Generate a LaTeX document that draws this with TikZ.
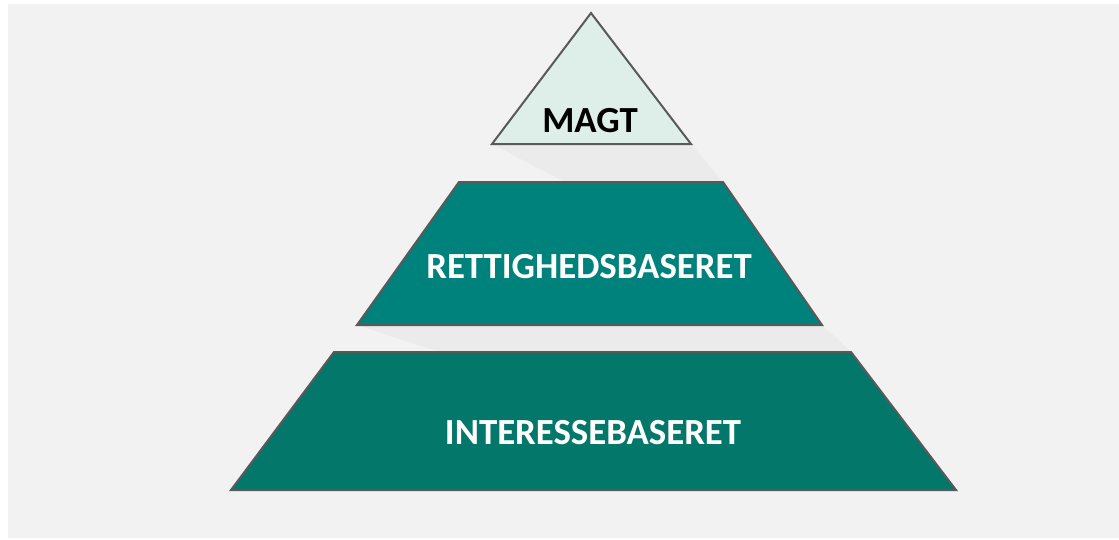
\documentclass[tikz,border=0pt]{standalone}
\usepackage{fontspec}
\setmainfont{Carlito}
\begin{document}
\begin{tikzpicture}[x=1pt,y=-1pt,
  tier/.style={draw=edgegray,line width=2pt,line join=miter},
  shade/.style={fill=shadowgray,draw=none},
  label/.style={font=\bfseries\fontsize{36.8}{42}\selectfont,anchor=base,inner sep=0pt}]
\definecolor{bggray}{HTML}{F2F2F2}
\definecolor{shadowgray}{HTML}{EBEBEB}
\definecolor{edgegray}{HTML}{595959}
\definecolor{mint}{HTML}{DEEFE9}
\definecolor{tealmid}{HTML}{00827C}
\definecolor{tealdark}{HTML}{04776B}
\useasboundingbox (0,0) rectangle (1119,539);
\fill[white] (0,0) rectangle (1119,539);
\fill[bggray] (8,4) rectangle (1119,538);
% soft shadows
\fill[shade] (492,144) -- (691,144) -- (723,182) -- (565,182) -- cycle;
\fill[shade] (357,325) -- (822,325) -- (851,352) -- (440,352) -- cycle;
% tiers
\draw[tier,fill=tealdark] (231,490) -- (956,490) -- (851,352) -- (334,352) -- cycle;
\draw[tier,fill=tealmid] (357,325) -- (822,325) -- (723,182) -- (459,182) -- cycle;
\draw[tier,fill=mint] (492,144) -- (691,144) -- (591,13) -- cycle;
% labels
\node[label,text=black] (magt) at (590,132) {MAGT};
\node[label,text=white] (ret) at (589,278) {RETTIGHEDSBASERET};
\node[label,text=white] (int) at (593,444) {INTERESSEBASERET};
\end{tikzpicture}
\end{document}
